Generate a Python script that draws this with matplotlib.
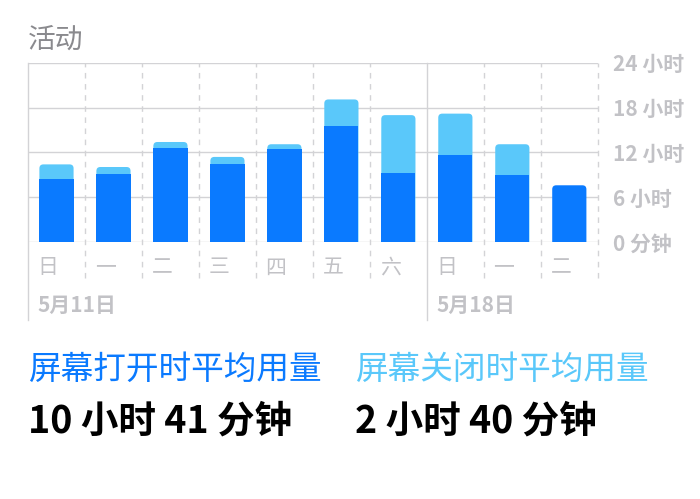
import matplotlib
matplotlib.use('Agg')
import matplotlib.pyplot as plt
from matplotlib.patches import FancyBboxPatch

plt.rcParams['font.family'] = ['Noto Sans CJK SC', 'DejaVu Sans']

# 每天的使用时长(小时)
days = ['日', '一', '二', '三', '四', '五', '六', '日', '一', '二']
screen_on = [8.5, 9.1, 12.6, 10.4, 12.5, 15.5, 9.2, 11.7, 9.0, 7.6]
screen_off = [1.9, 0.95, 0.8, 1.0, 0.6, 3.6, 7.8, 5.5, 4.1, 0.0]
y_ticks = [0, 6, 12, 18, 24]
y_labels = ['0 分钟', '6 小时', '12 小时', '18 小时', '24 小时']
week_starts = [0, 7]
week_labels = ['5月11日', '5月18日']

blue = '#0A7AFF'
light_blue = '#5AC8FA'
grid_c = '#D3D3D6'
label_c = '#C2C2C6'

fig = plt.figure(figsize=(7, 4.99), dpi=100)
ax = fig.add_axes([0.04, 0.515, 0.814, 0.359])

x = [i + 0.5 for i in range(len(days))]
w = 0.6
ax.set_xlim(0, len(days))
ax.set_ylim(0, 24)

# 竖线
for i in range(len(days) + 1):
    if i in week_starts:
        ax.plot([i, i], [-10.5, 24], color=grid_c, lw=1, clip_on=False, zorder=1)
    else:
        ax.plot([i, i], [-4.8, 24], color=grid_c, lw=1, ls=(0, (4, 4)), clip_on=False, zorder=1)
# 横线
for t in y_ticks:
    ax.axhline(t, color=grid_c, lw=1, zorder=1)

# 圆角: 像素 -> 数据单位
ppx = 570 / len(days)
ppy = 179 / 24
r = 4.0

def round_top(patch, color, z):
    x0 = patch.get_x()
    bw, top = patch.get_width(), patch.get_y() + patch.get_height()
    patch.remove()
    # 从 0 以下画起, 下方圆角被裁掉
    fb = FancyBboxPatch((x0, -1), bw, top + 1,
                        boxstyle='round,pad=0,rounding_size=%f' % (r / ppx),
                        mutation_aspect=ppx / ppy, fc=color, ec='none',
                        zorder=z)
    ax.add_patch(fb)

bars_off = ax.bar(x, screen_off, width=w, bottom=screen_on, color=light_blue, zorder=2)
bars_on = ax.bar(x, screen_on, width=w, color=blue, zorder=3)
for b_on, b_off, off in zip(bars_on, bars_off, screen_off):
    if off > 0:
        round_top(b_off, light_blue, 2)
    else:
        b_off.remove()
        round_top(b_on, blue, 3)

for s in ax.spines.values():
    s.set_visible(False)
ax.set_xticks([])
ax.yaxis.tick_right()
ax.set_yticks(y_ticks)
ax.set_yticklabels(y_labels, fontsize=15, color=label_c, fontweight='bold')
ax.tick_params(axis='y', length=0, pad=11)

for i, d in enumerate(days):
    ax.text(i + 0.17, -3.4, d, fontsize=15, color=label_c, ha='left', va='center', clip_on=False)
for s, lab in zip(week_starts, week_labels):
    ax.text(s + 0.17, -8.5, lab, fontsize=15, color=label_c, fontweight='bold',
            ha='left', va='center', clip_on=False)

fig.text(0.04, 1 - 40 / 499, '活动', fontsize=20, color='#8A8A8E', ha='left', va='center')
fig.text(0.04, 1 - 370 / 499, '屏幕打开时平均用量', fontsize=23.5, color=blue, ha='left', va='center')
fig.text(355 / 700, 1 - 370 / 499, '屏幕关闭时平均用量', fontsize=23.5, color=light_blue, ha='left', va='center')
fig.text(0.04, 1 - 421 / 499, '10 小时 41 分钟', fontsize=27, color='black', fontweight='bold',
         ha='left', va='center')
fig.text(355 / 700, 1 - 421 / 499, '2 小时 40 分钟', fontsize=27, color='black', fontweight='bold',
         ha='left', va='center')

fig.savefig('out.png', dpi=100, facecolor='white')
